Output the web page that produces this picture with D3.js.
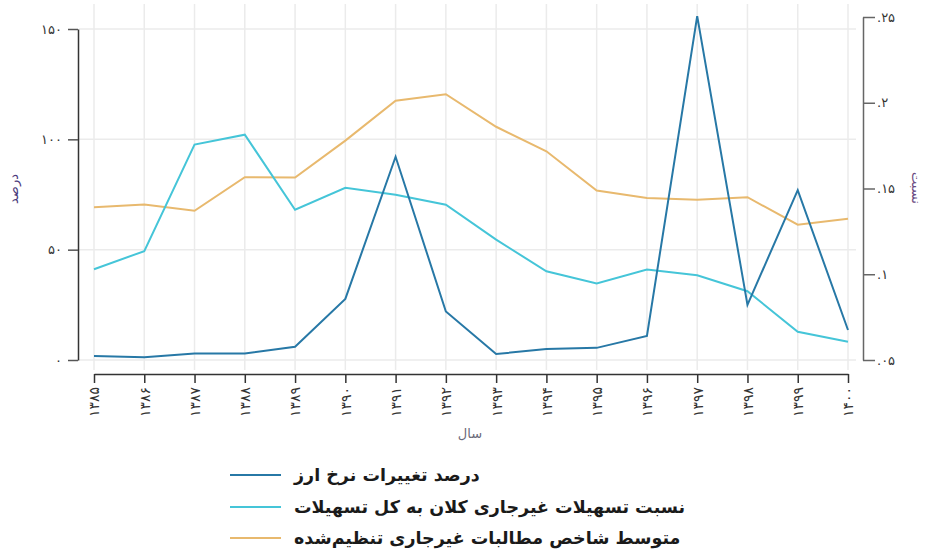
<!DOCTYPE html>
<html>
<head>
<meta charset="utf-8">
<script src="https://cdn.jsdelivr.net/npm/d3@7"></script>
<style>
  html, body { margin: 0; padding: 0; background: #fff; }
  svg { display: block; }
  text { font-family: "DejaVu Sans", sans-serif; }
</style>
</head>
<body>
<svg id="chart" width="925" height="557"></svg>
<script>
// Years (Solar Hijri) and series
const years = [1385, 1386, 1387, 1388, 1389, 1390, 1391, 1392, 1393, 1394, 1395, 1396, 1397, 1398, 1399, 1400];
const yearLabels = ["۱۳۸۵", "۱۳۸۶", "۱۳۸۷", "۱۳۸۸", "۱۳۸۹", "۱۳۹۰", "۱۳۹۱", "۱۳۹۲", "۱۳۹۳", "۱۳۹۴", "۱۳۹۵", "۱۳۹۶", "۱۳۹۷", "۱۳۹۸", "۱۳۹۹", "۱۴۰۰"];

// Exchange-rate change, percent (left axis)
const fxChange = [1.8, 1.2, 3.0, 3.0, 6.0, 27.7, 92.1, 22.0, 2.7, 5.0, 5.5, 10.9, 155.8, 25.0, 77.0, 13.6];
// Ratio of large non-performing loans to total loans (right axis)
const nplRatio = [0.1029, 0.1135, 0.1756, 0.1814, 0.1376, 0.1504, 0.1463, 0.1405, 0.1202, 0.1017, 0.0946, 0.1027, 0.0994, 0.0901, 0.0665, 0.0606];
// Average adjusted non-performing claims index (right axis)
const adjIndex = [0.1390, 0.1407, 0.1370, 0.1566, 0.1564, 0.1779, 0.2012, 0.2050, 0.1860, 0.1717, 0.1488, 0.1444, 0.1434, 0.1449, 0.1289, 0.1324];

const leftTicks = [0, 50, 100, 150];
const leftTickLabels = ["۰", "۵۰", "۱۰۰", "۱۵۰"];
const rightTicks = [0.05, 0.1, 0.15, 0.2, 0.25];
const rightTickLabels = [".۰۵", ".۱", ".۱۵", ".۲", ".۲۵"];

const seriesNames = [
  "درصد تغییرات نرخ ارز",
  "نسبت تسهیلات غیرجاری کلان به کل تسهیلات",
  "متوسط شاخص مطالبات غیرجاری تنظیم\u200cشده"
];
const seriesColors = ["#2778a6", "#45c5d8", "#e8b96e"];

const svg = d3.select("#chart");

const x = d3.scaleLinear().domain([1385, 1400]).range([94, 848]);
const yL = d3.scaleLinear().domain([0, 150]).range([360, 29]);
const yR = d3.scaleLinear().domain([0.05, 0.25]).range([360, 17]);

// Grid
const grid = svg.append("g").attr("stroke", "#ebebeb").attr("stroke-width", 1.5);
grid.selectAll("line.v").data(years).join("line")
  .attr("x1", d => x(d)).attr("x2", d => x(d))
  .attr("y1", 4).attr("y2", 370);
grid.selectAll("line.h").data(leftTicks).join("line")
  .attr("x1", 79).attr("x2", 856)
  .attr("y1", d => yL(d)).attr("y2", d => yL(d));

// Left axis
const axL = svg.append("g").attr("transform", "translate(78,0)")
  .call(d3.axisLeft(yL).tickValues(leftTicks).tickSize(10).tickSizeOuter(0)
    .tickFormat((d, i) => leftTickLabels[i]));
axL.select(".domain").attr("stroke", "#333").attr("stroke-width", 1.5);
axL.selectAll(".tick line").attr("stroke", "#555").attr("stroke-width", 1.5);
axL.selectAll(".tick text").attr("font-size", 13).attr("fill", "#333").attr("x", -16)
  .attr("font-family", "DejaVu Sans");

// Right axis
const axR = svg.append("g").attr("transform", "translate(863,0)")
  .call(d3.axisRight(yR).tickValues(rightTicks).tickSize(12).tickSizeOuter(0)
    .tickFormat((d, i) => rightTickLabels[i]));
axR.select(".domain").attr("stroke", "#666").attr("stroke-width", 1.5);
axR.selectAll(".tick line").attr("stroke", "#666").attr("stroke-width", 1.5);
axR.selectAll(".tick text").attr("font-size", 13).attr("fill", "#333").attr("x", 14)
  .attr("font-family", "DejaVu Sans").attr("direction", "ltr");

// Bottom axis
const axB = svg.append("g").attr("transform", "translate(0,374)")
  .call(d3.axisBottom(x).tickValues(years).tickSize(9).tickSizeOuter(0)
    .tickFormat((d, i) => yearLabels[i]));
axB.select(".domain").attr("stroke", "#333").attr("stroke-width", 1.5);
axB.selectAll(".tick line").attr("stroke", "#333").attr("stroke-width", 1.5);
axB.selectAll(".tick text")
  .attr("font-size", 14).attr("fill", "#333").attr("font-family", "DejaVu Sans")
  .attr("transform", "rotate(-90)")
  .attr("text-anchor", "end").attr("dy", "0.35em").attr("x", -13).attr("y", 0);

// Axis titles
svg.append("text").attr("transform", "translate(18,189) rotate(-90)")
  .attr("text-anchor", "middle").attr("font-size", 13).attr("fill", "#4b3c7c")
  .text("درصد");
svg.append("text").attr("transform", "translate(912,188) rotate(90)")
  .attr("text-anchor", "middle").attr("font-size", 13).attr("fill", "#6b4c82")
  .text("نسبت");
svg.append("text").attr("x", 470).attr("y", 438)
  .attr("text-anchor", "middle").attr("font-size", 13).attr("fill", "#6a6a7a")
  .text("سال");

// Lines
const lineL = d3.line().x((d, i) => x(years[i])).y(d => yL(d));
const lineR = d3.line().x((d, i) => x(years[i])).y(d => yR(d));

const seriesData = [
  { values: fxChange, gen: lineL, color: seriesColors[0] },
  { values: nplRatio, gen: lineR, color: seriesColors[1] },
  { values: adjIndex, gen: lineR, color: seriesColors[2] }
];
// Draw order: orange beneath, then cyan, then dark blue on top
[2, 1, 0].forEach(k => {
  const s = seriesData[k];
  svg.append("path").datum(s.values)
    .attr("d", s.gen).attr("fill", "none")
    .attr("stroke", s.color).attr("stroke-width", 2)
    .attr("stroke-linejoin", "miter");
});

// Legend
const legend = svg.append("g");
const legY = [475, 507, 538];
seriesNames.forEach((name, i) => {
  legend.append("line")
    .attr("x1", 230).attr("x2", 281).attr("y1", legY[i]).attr("y2", legY[i])
    .attr("stroke", seriesColors[i]).attr("stroke-width", 2);
  legend.append("text")
    .attr("x", 294).attr("y", legY[i]).attr("dy", "0.35em")
    .attr("font-size", 17.5).attr("font-weight", "bold").attr("fill", "#1a1a1a")
    .attr("text-anchor", "start")
    .text(name);
});
</script>
</body>
</html>
